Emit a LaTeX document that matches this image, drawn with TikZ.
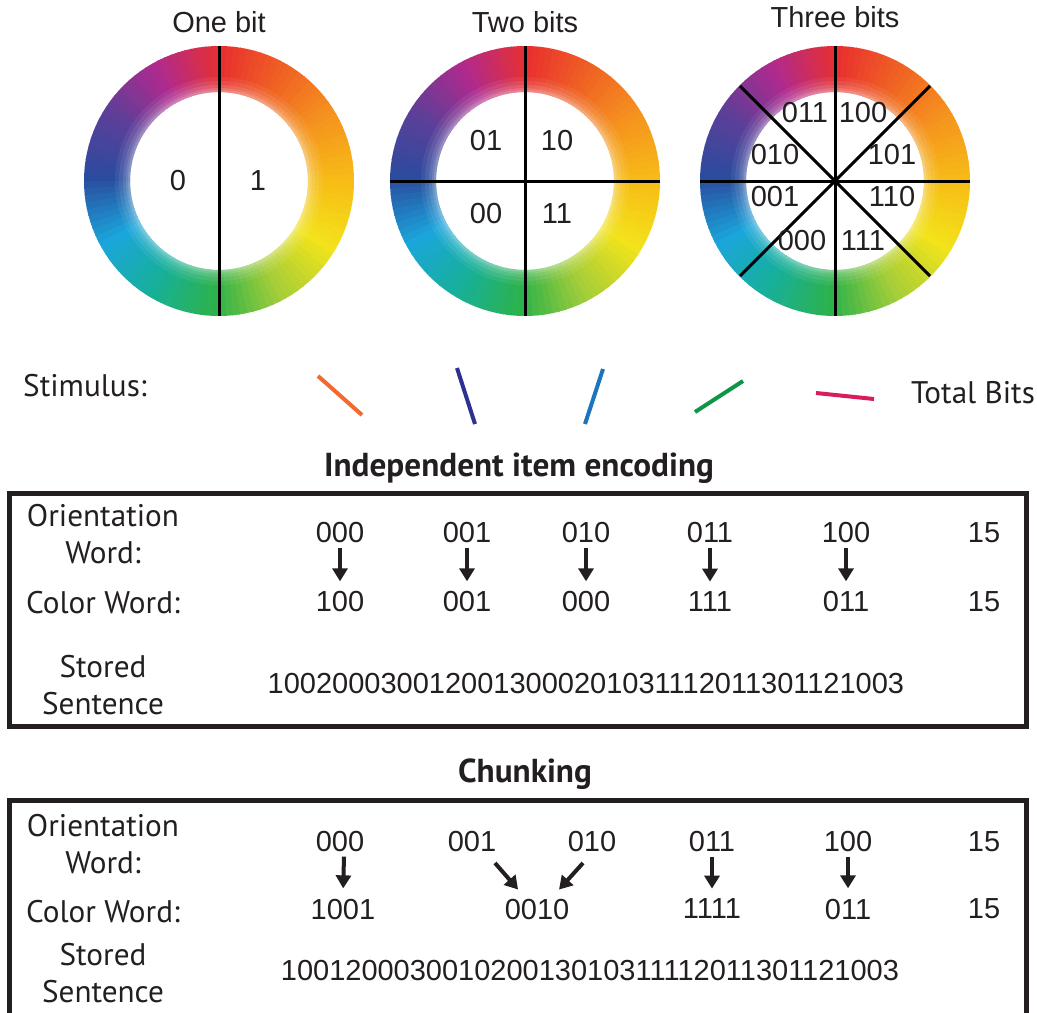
\documentclass[tikz,border=0pt]{standalone}
\usepackage{fontspec}
\setmainfont{Liberation Sans}
\newfontfamily\myriad{PT Sans}
\usetikzlibrary{arrows.meta}
\definecolor{ink}{HTML}{231F20}
\definecolor{hueA}{HTML}{E8302E}
\definecolor{hueB}{HTML}{F06423}
\definecolor{hueC}{HTML}{F5961E}
\definecolor{hueD}{HTML}{F7BE16}
\definecolor{hueE}{HTML}{F2E31B}
\definecolor{hueF}{HTML}{A6CE39}
\definecolor{hueG}{HTML}{2DB24A}
\definecolor{hueH}{HTML}{17B09A}
\definecolor{hueI}{HTML}{1BA6DB}
\definecolor{hueJ}{HTML}{2A4C9F}
\definecolor{hueK}{HTML}{5C3F98}
\definecolor{hueL}{HTML}{B02A8E}
\definecolor{stimA}{HTML}{F26A2E}
\definecolor{stimB}{HTML}{2E3192}
\definecolor{stimC}{HTML}{1C75BC}
\definecolor{stimD}{HTML}{0F9548}
\definecolor{stimE}{HTML}{DA1C5C}
\begin{document}
\begin{tikzpicture}[x=0.5pt,y=-0.5pt,every node/.style={text=ink}]
    \tikzset{
      num/.style={font=\fontsize{14.5}{17}\selectfont,inner sep=2pt},
      lab/.style={font=\myriad\fontsize{15.6}{18.5}\selectfont,align=center,inner sep=0pt},
      ttl/.style={font=\myriad\bfseries\fontsize{16.6}{19}\selectfont,anchor=base},
      cut/.style={line width=1.5pt,draw=black},
      stim/.style={line width=2pt},
      frame/.style={draw=ink,line width=2.5pt},
      arr/.style={-{Triangle[length=6.5pt,width=7.5pt]},line width=2pt,draw=ink,shorten >=3pt}
    }
    \newcommand{\huewheel}[2]{%
      \begin{scope}[shift={(#1,#2)}]
        \foreach \ta/\ca/\cb in {0/hueA/hueB,30/hueB/hueC,60/hueC/hueD,90/hueD/hueE,
          120/hueE/hueF,150/hueF/hueG,180/hueG/hueH,210/hueH/hueI,240/hueI/hueJ,
          270/hueJ/hueK,300/hueK/hueL,330/hueL/hueA}{
          \foreach \k in {0,...,9}{
            \pgfmathsetmacro{\aa}{\ta+3*\k-90}
            \pgfmathsetmacro{\bb}{\aa+3.5}
            \pgfmathtruncatemacro{\pc}{100-10*\k}
            \fill[\ca!\pc!\cb] (\aa:89) -- (\aa:135) arc[start angle=\aa,end angle=\bb,radius=135]
              -- (\bb:89) arc[start angle=\bb,end angle=\aa,radius=89] -- cycle;
          }
        }
        % soft white rim on the inside
        \foreach \r/\op in {104/0.06,100/0.08,96/0.1,93/0.12,91/0.14}{
          \fill[white,opacity=\op,even odd rule] (0,0) circle[radius=\r] (0,0) circle[radius=89];
        }
      \end{scope}
    }
    \useasboundingbox (0,0) rectangle (1037,1012);
    \clip (0,0) rectangle (1037,1012);

    % colour wheels
    \huewheel{219}{181}
    \huewheel{525}{181}
    \huewheel{835}{181}
    \draw[cut] (219,46) -- (219,316);
    \draw[cut] (525,46) -- (525,316);
    \draw[cut] (390,181) -- (660,181);
    \draw[cut] (835,46) -- (835,316);
    \draw[cut] (700,181) -- (970,181);
    \draw[cut] (740,86) -- (930,276);
    \draw[cut] (930,86) -- (740,276);

    \node[num] (t1) at (219,22) {One bit};
    \node[num] (t2) at (525,22) {Two bits};
    \node[num] (t3) at (835,17) {Three bits};

    \node[num] (w1a) at (178,181) {0};
    \node[num] (w1b) at (258,181) {1};

    \node[num] (w2a) at (486,141) {01};
    \node[num] (w2b) at (557,141) {10};
    \node[num] (w2c) at (486,214) {00};
    \node[num] (w2d) at (557,214) {11};

    \node[num] (w3a) at (805,113) {011};
    \node[num] (w3b) at (863,113) {100};
    \node[num] (w3c) at (775,155) {010};
    \node[num] (w3d) at (892,155) {101};
    \node[num] (w3e) at (775,197) {001};
    \node[num] (w3f) at (892,197) {110};
    \node[num] (w3g) at (802,241) {000};
    \node[num] (w3h) at (863,241) {111};

    % stimulus row
    \node[lab,anchor=base] (stim) at (85,396) {Stimulus:};
    \draw[stim,stimA] (318,376) -- (362,415);
    \draw[stim,stimB] (457,368) -- (475,424);
    \draw[stim,stimC] (603,369) -- (585,424);
    \draw[stim,stimD] (743,381) -- (695,412);
    \draw[stim,stimE] (816,393) -- (874,399);
    \node[lab,anchor=base] (tot) at (973,403) {Total Bits};

    % independent item encoding
    \node[ttl] (ind) at (519,476) {Independent item encoding};
    \draw[frame] (9.5,493) rectangle (1026.5,726.5);
    \node[lab] (ori1) at (103,534) {Orientation\\Word:};
    \node[lab] (col1) at (103,603) {Color Word:};
    \node[lab] (sto1) at (103,685) {Stored\\Sentence};

    \node[num] (o11) at (340,533) {000};
    \node[num] (o12) at (467,533) {001};
    \node[num] (o13) at (586,533) {010};
    \node[num] (o14) at (710,533) {011};
    \node[num] (o15) at (846,533) {100};
    \node[num] (o16) at (984,533) {15};
    \node[num] (c11) at (340,602) {100};
    \node[num] (c12) at (467,602) {001};
    \node[num] (c13) at (586,602) {000};
    \node[num] (c14) at (710,602) {111};
    \node[num] (c15) at (846,602) {011};
    \node[num] (c16) at (984,602) {15};
    \foreach \i in {1,...,5}{
      \draw[arr] (o1\i.south) -- (c1\i.north);
    }
    \node[num] (s1) at (586,684) {1002000300120013000201031112011301121003};

    % chunking
    \node[ttl] (chk) at (525,782) {Chunking};
    \draw[frame] (9.5,800.5) rectangle (1026.5,1040);
    \node[lab] (ori2) at (103,844) {Orientation\\Word:};
    \node[lab] (col2) at (103,912) {Color Word:};
    \node[lab] (sto2) at (103,973) {Stored\\Sentence};

    \node[num] (o21) at (340,842) {000};
    \node[num] (o22) at (472,842) {001};
    \node[num] (o23) at (592,842) {010};
    \node[num] (o24) at (712,842) {011};
    \node[num] (o25) at (848,842) {100};
    \node[num] (o26) at (984,842) {15};
    \node[num] (c21) at (343,909) {1001};
    \node[num] (c22) at (537,909) {0010};
    \node[num] (c23) at (712,909) {1111};
    \node[num] (c24) at (848,909) {011};
    \node[num] (c25) at (984,909) {15};
    \draw[arr] ([xshift=2]o21.south) -- (c21.north);
    \draw[arr] ([shift={(23,21)}]o22.center) -- ([shift={(-15,-15)}]c22.center);
    \draw[arr] ([shift={(-9,21)}]o23.center) -- ([shift={(18,-15)}]c22.center);
    \draw[arr] (o24.south) -- (c23.north);
    \draw[arr] (o25.south) -- (c24.north);
    \node[num] (s2) at (590,970) {100120003001020013010311112011301121003};
  \end{tikzpicture}
\end{document}
